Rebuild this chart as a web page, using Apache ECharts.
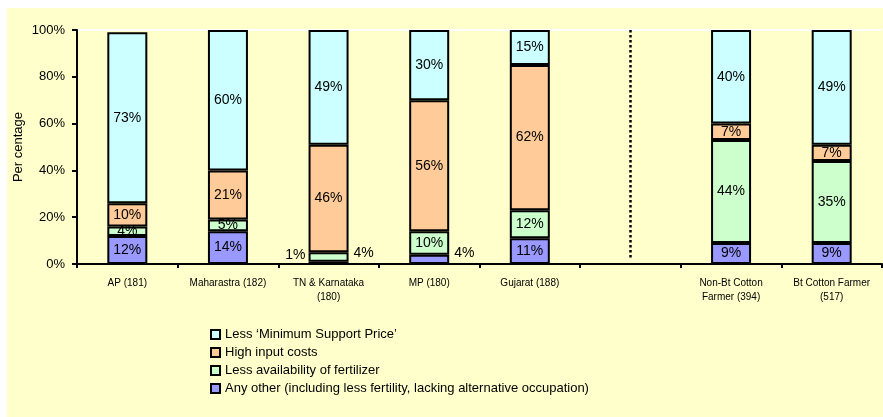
<!DOCTYPE html>
<html>
<head>
<meta charset="utf-8">
<script src="https://cdn.jsdelivr.net/npm/echarts@6/dist/echarts.min.js"></script>
<style>
  html, body { margin: 0; padding: 0; background: #fff; }
  #chart { width: 883px; height: 417px; }
</style>
</head>
<body>
<div id="chart"></div>
<script>
var categories = ['AP (181)', 'Maharastra (182)', 'TN & Karnataka\n(180)', 'MP (180)', 'Gujarat (188)', '',
    'Non-Bt Cotton\nFarmer (394)', 'Bt Cotton Farmer\n(517)'];
var seriesNames = ['Less \u2018Minimum Support Price\u2019', 'High input costs', 'Less availability of fertilizer',
    'Any other (including less fertility, lacking alternative occupation)'];
var lessMSP   = [73, 60, 49, 30, 15, null, 40, 49];
var highInput = [10, 21, 46, 56, 62, null, 7, 7];
var lessFert  = [4, 5, 4, 10, 12, null, 44, 35];
var anyOther  = [12, 14, 1, 4, 11, null, 9, 9];
var yTicks = [0, 20, 40, 60, 80, 100];
// dotted separator between states and farmer groups
var dividerAt = 5;
var dividerSpan = [100, 2.5];

var font = 'Liberation Sans';
var colors = ['#CCFFFF', '#FFCC99', '#CCFFCC', '#9999FF'];

// labels that sit beside the bar instead of inside it
var outside = {
    '3-2': { position: 'left', offset: [2, -8] },
    '2-2': { position: 'right', offset: [0, -4] },
    '3-3': { position: 'right', offset: [0, -6] }
};

function makeSeries(idx, values) {
    return {
        name: seriesNames[idx],
        type: 'bar',
        stack: 'all',
        barWidth: 40,
        itemStyle: { color: colors[idx], borderColor: '#000', borderWidth: 2 },
        label: {
            show: true, position: 'inside', color: '#000',
            fontFamily: font, fontSize: 14,
            formatter: function (p) { return p.value == null ? '' : p.value + '%'; }
        },
        data: values.map(function (v, i) {
            var o = outside[idx + '-' + i];
            if (!o) return v;
            return { value: v, label: { position: o.position, offset: o.offset } };
        })
    };
}

var series = [
    makeSeries(3, anyOther),
    makeSeries(2, lessFert),
    makeSeries(1, highInput),
    makeSeries(0, lessMSP)
];
series[0].markLine = {
    silent: true,
    symbol: ['none', 'none'],
    label: { show: false },
    lineStyle: { color: '#000', type: 'dotted', width: 2.5 },
    data: [[{ coord: [dividerAt, dividerSpan[0]] }, { coord: [dividerAt, dividerSpan[1]] }]]
};

var chart = echarts.init(document.getElementById('chart'));
chart.setOption({
    backgroundColor: '#fff',
    animation: false,
    textStyle: { fontFamily: font },
    graphic: [{
        type: 'rect', z: -10, silent: true,
        shape: { x: 7, y: 8, width: 876, height: 409 },
        style: { fill: '#FFFFCC' }
    }],
    grid: { left: 77, right: 1, top: 30, bottom: 153 },
    legend: {
        orient: 'vertical',
        left: 205,
        top: 323,
        itemWidth: 9,
        itemHeight: 9,
        itemGap: 5,
        icon: 'rect',
        itemStyle: { borderColor: '#000', borderWidth: 2 },
        textStyle: { fontFamily: font, fontSize: 13, color: '#000' },
        data: seriesNames
    },
    xAxis: {
        type: 'category',
        data: categories,
        axisLine: { lineStyle: { color: '#000', width: 2 } },
        axisTick: { show: true, length: 4, lineStyle: { color: '#000', width: 2 } },
        axisLabel: { color: '#000', fontSize: 10, margin: 12, lineHeight: 14, interval: 0 }
    },
    yAxis: {
        type: 'value',
        min: yTicks[0],
        max: yTicks[yTicks.length - 1],
        interval: 20,
        name: 'Per centage',
        nameLocation: 'middle',
        nameGap: 52,
        nameMoveOverlap: false,
        nameTextStyle: { color: '#000', fontSize: 13 },
        axisLine: { show: true, lineStyle: { color: '#000', width: 2 } },
        axisTick: { show: true, length: 5, lineStyle: { color: '#000', width: 2 } },
        axisLabel: { color: '#000', fontSize: 13, margin: 12, formatter: '{value}%' },
        splitLine: {
            show: true,
            lineStyle: { color: ['rgba(0,0,0,0)', 'rgba(0,0,0,0)', 'rgba(0,0,0,0)',
                'rgba(0,0,0,0)', 'rgba(0,0,0,0)', '#fff'], width: 2 }
        }
    },
    series: series
});
</script>
</body>
</html>
